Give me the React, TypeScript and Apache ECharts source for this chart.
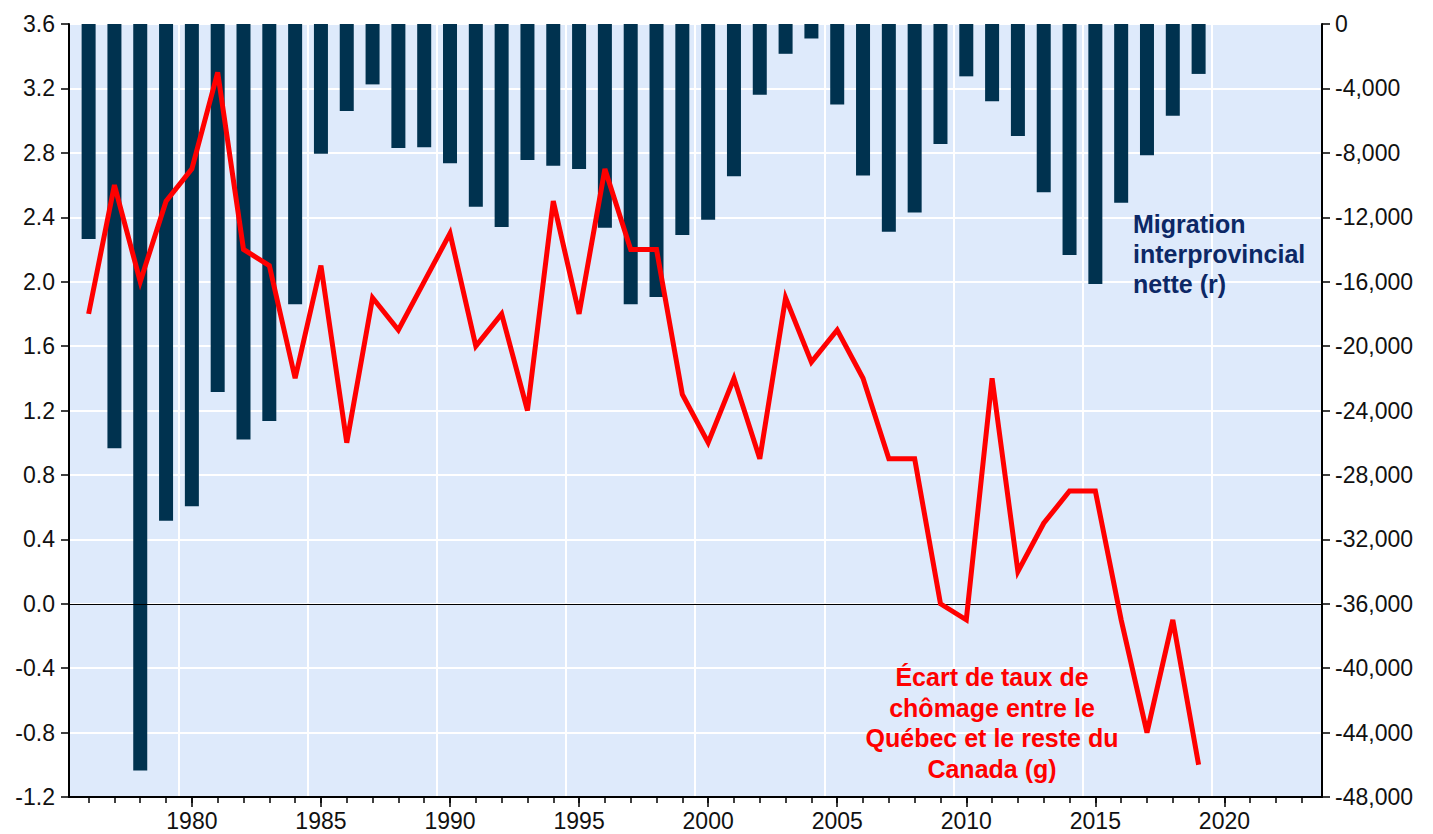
import React, { useEffect, useRef } from "react";
import * as echarts from "echarts";

// ---------- data ----------
const years = [
  1976, 1977, 1978, 1979, 1980, 1981, 1982, 1983, 1984, 1985,
  1986, 1987, 1988, 1989, 1990, 1991, 1992, 1993, 1994, 1995,
  1996, 1997, 1998, 1999, 2000, 2001, 2002, 2003, 2004, 2005,
  2006, 2007, 2008, 2009, 2010, 2011, 2012, 2013, 2014, 2015,
  2016, 2017, 2018, 2019,
];

// Net interprovincial migration (right axis)
const netMigration = [
  -13350, -26350, -46350, -30850, -29950, -22850, -25800, -24650, -17400, -8050,
  -5400, -3750, -7700, -7650, -8650, -11350, -12600, -8450, -8800, -9000,
  -12650, -17400, -16950, -13100, -12150, -9450, -4400, -1850, -900, -5000,
  -9400, -12900, -11700, -7450, -3250, -4800, -6950, -10450, -14350, -16150,
  -11100, -8150, -5700, -3100,
];

// Unemployment rate gap Quebec vs rest of Canada (left axis)
const unemploymentGap = [
  1.8, 2.6, 2.0, 2.5, 2.7, 3.3, 2.2, 2.1, 1.4, 2.1,
  1.0, 1.9, 1.7, 2.0, 2.3, 1.6, 1.8, 1.2, 2.5, 1.8,
  2.7, 2.2, 2.2, 1.3, 1.0, 1.4, 0.9, 1.9, 1.5, 1.7,
  1.4, 0.9, 0.9, 0.0, -0.1, 1.4, 0.2, 0.5, 0.7, 0.7,
  -0.1, -0.8, -0.1, -1.0,
];

// ---------- axis ticks ----------
const yearTicks = [
  1976, 1977, 1978, 1979, 1980, 1981, 1982, 1983, 1984, 1985, 1986, 1987,
  1988, 1989, 1990, 1991, 1992, 1993, 1994, 1995, 1996, 1997, 1998, 1999,
  2000, 2001, 2002, 2003, 2004, 2005, 2006, 2007, 2008, 2009, 2010, 2011,
  2012, 2013, 2014, 2015, 2016, 2017, 2018, 2019, 2020, 2021, 2022, 2023,
];
const yearLabels = [1980, 1985, 1990, 1995, 2000, 2005, 2010, 2015, 2020];
const verticalGrid = [1979.5, 1984.5, 1989.5, 1994.5, 1999.5, 2004.5, 2009.5, 2014.5, 2019.5];

const X_MIN = 1975.24;
const X_MAX = 2023.78;

const FONT = "'Liberation Sans', Arial, Helvetica, sans-serif";
const migrationText = ["Migration", "interprovincial", "nette (r)"];
const gapText = ["Écart de taux de", "chômage entre le", "Québec et le reste du", "Canada (g)"];

export default function App() {
  const ref = useRef<HTMLDivElement>(null);

  useEffect(() => {
    if (!ref.current) return;
    const chart = echarts.init(ref.current, null, { renderer: "svg" });

    const axisLabelStyle = {
      color: "#111",
      fontSize: 23,
      fontFamily: FONT,
    };

    const graphics: any[] = [];
    migrationText.forEach((t, i) => {
      graphics.push({
        type: "text",
        x: 1133,
        y: 223.5 + i * 30,
        silent: true,
        z: 100,
        style: {
          text: t,
          fill: "#0c2866",
          font: `bold 25px ${FONT}`,
          align: "left",
          verticalAlign: "middle",
        },
      });
    });
    gapText.forEach((t, i) => {
      graphics.push({
        type: "text",
        x: 992,
        y: 677 + i * 30.5,
        silent: true,
        z: 100,
        style: {
          text: t,
          fill: "#ff0000",
          font: `bold 25px ${FONT}`,
          align: "center",
          verticalAlign: "middle",
        },
      });
    });

    chart.setOption({
      animation: false,
      backgroundColor: "#ffffff",
      grid: {
        left: 69,
        right: 111,
        top: 24,
        bottom: 37,
        show: true,
        backgroundColor: "#deeafb",
        borderWidth: 0,
        containLabel: false,
      },
      xAxis: [
        {
          type: "value",
          position: "bottom",
          min: X_MIN,
          max: X_MAX,
          axisLine: { show: true, onZero: false, lineStyle: { color: "#000", width: 2 } },
          axisTick: {
            show: true,
            customValues: yearTicks,
            length: 6,
            lineStyle: { color: "#000", width: 1.5 },
          },
          axisLabel: { show: false },
          splitLine: { show: false },
        },
        {
          type: "value",
          position: "bottom",
          min: X_MIN,
          max: X_MAX,
          axisLine: { show: false, onZero: false },
          axisTick: {
            show: true,
            customValues: yearLabels,
            length: 10,
            lineStyle: { color: "#000", width: 1.5 },
          },
          axisLabel: {
            show: true,
            customValues: yearLabels,
            formatter: (v: number) => String(Math.round(v)),
            margin: 12,
            ...axisLabelStyle,
          },
          splitLine: { show: false },
        },
        {
          type: "value",
          position: "top",
          min: X_MIN,
          max: X_MAX,
          axisLine: { show: false, onZero: false },
          axisTick: { show: false, customValues: verticalGrid },
          axisLabel: { show: false, customValues: verticalGrid },
          splitLine: { show: true, lineStyle: { color: "#ffffff", width: 2 } },
        },
      ],
      yAxis: [
        {
          type: "value",
          position: "left",
          min: -1.2,
          max: 3.6,
          interval: 0.4,
          axisLine: { show: true, onZero: false, lineStyle: { color: "#000", width: 2 } },
          axisTick: { show: true, inside: false, length: 8, lineStyle: { color: "#000", width: 1.5 } },
          axisLabel: {
            show: true,
            showMinLabel: true,
            showMaxLabel: true,
            margin: 14,
            formatter: (v: number) => (Math.abs(v) < 1e-9 ? 0 : v).toFixed(1),
            ...axisLabelStyle,
          },
          splitLine: { show: true, lineStyle: { color: "#ffffff", width: 2 } },
        },
        {
          type: "value",
          position: "right",
          min: -48000,
          max: 0,
          interval: 4000,
          axisLine: { show: true, onZero: false, lineStyle: { color: "#000", width: 2 } },
          axisTick: { show: true, inside: false, length: 8, lineStyle: { color: "#000", width: 1.5 } },
          axisLabel: {
            show: true,
            showMinLabel: true,
            showMaxLabel: true,
            margin: 13,
            formatter: (v: number) => {
              const r = Math.round(v);
              if (r === 0) return "0";
              return r.toLocaleString("en-US");
            },
            ...axisLabelStyle,
          },
          splitLine: { show: false },
        },
      ],
      series: [
        {
          name: "Migration interprovinciale nette",
          type: "bar",
          xAxisIndex: 0,
          yAxisIndex: 1,
          barWidth: 14,
          data: years.map((y, i) => [y, netMigration[i]]),
          itemStyle: { color: "#00324f" },
          z: 2,
        },
        {
          name: "Écart de taux de chômage",
          type: "line",
          xAxisIndex: 0,
          yAxisIndex: 0,
          data: years.map((y, i) => [y, unemploymentGap[i]]),
          symbol: "none",
          lineStyle: { color: "#ff0000", width: 5, join: "miter" },
          z: 4,
          markLine: {
            silent: true,
            symbol: ["none", "none"],
            label: { show: false },
            lineStyle: { color: "#000", width: 1, type: "solid" },
            data: [{ yAxis: 0 }],
            z: 3,
          },
        },
      ],
      graphic: graphics,
    });

    return () => {
      chart.dispose();
    };
  }, []);

  return (
    <div
      ref={ref}
      style={{ position: "fixed", left: 0, top: 0, width: 1433, height: 834, background: "#fff" }}
    />
  );
}
